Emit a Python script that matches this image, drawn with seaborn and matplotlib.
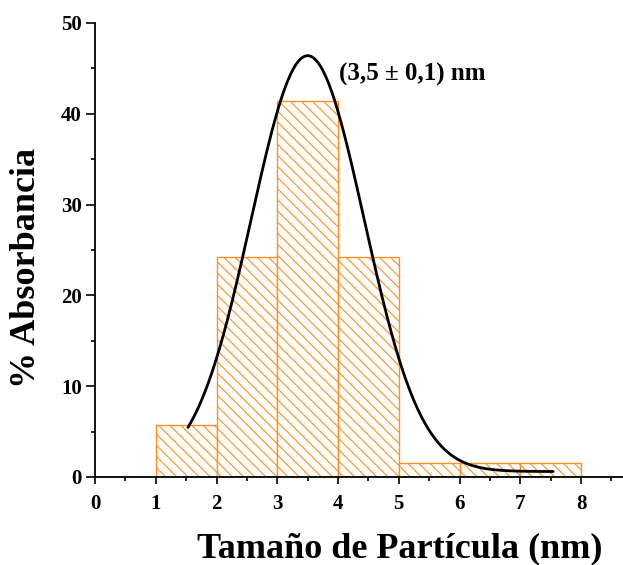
import numpy as np
import pandas as pd
import matplotlib
matplotlib.use("Agg")
import matplotlib.pyplot as plt
import seaborn as sns

# Histogram of particle sizes (bin edges in nm, percentage per bin)
bin_edges = [1, 2, 3, 4, 5, 6, 7, 8]
bin_percent = [5.7, 24.2, 41.4, 24.2, 1.5, 1.5, 1.5]

# Gaussian fit parameters: centre, width, amplitude, baseline
fit_center = 3.5
fit_sigma = 0.93
fit_amplitude = 45.8
fit_baseline = 0.6
fit_range = (1.53, 7.54)

x_ticks = [0, 1, 2, 3, 4, 5, 6, 7, 8]
y_ticks = [0, 10, 20, 30, 40, 50]
annotation = "(3,5 ± 0,1) nm"
x_label = "Tamaño de Partícula (nm)"
y_label = "% Absorbancia"

orange = "#FF8F1F"

sns.set_style("ticks")
plt.rcParams["font.family"] = ["Liberation Serif", "DejaVu Serif"]
plt.rcParams["font.weight"] = "bold"
plt.rcParams["text.color"] = "black"
plt.rcParams["xtick.color"] = "black"
plt.rcParams["ytick.color"] = "black"
plt.rcParams["axes.labelcolor"] = "black"
plt.rcParams["hatch.linewidth"] = 0.8
plt.rcParams["hatch.color"] = orange

fig = plt.figure(figsize=(6.23, 5.65), dpi=100)
ax = fig.add_axes([0.1525, 0.1558, 0.8475, 0.8035])

centers = [(a + b) / 2 for a, b in zip(bin_edges[:-1], bin_edges[1:])]
hist_df = pd.DataFrame({"size": centers, "pct": bin_percent})
sns.histplot(data=hist_df, x="size", weights="pct", bins=bin_edges,
             stat="count", fill=True, ax=ax, element="bars",
             facecolor="white", edgecolor=orange, linewidth=1.0, alpha=1)
for p in ax.patches:
    p.set_hatch("\\\\\\")
    p.set_edgecolor(orange)
    p.set_facecolor("white")

xs = np.linspace(fit_range[0], fit_range[1], 400)
ys = fit_baseline + fit_amplitude * np.exp(-(xs - fit_center) ** 2 / (2 * fit_sigma ** 2))
sns.lineplot(x=xs, y=ys, ax=ax, color="black", linewidth=2.0)

ax.text(4.02, 44.3, annotation, fontsize=18, fontweight="bold", va="center", ha="left",
        color="black")

ax.set_xlim(0, 8.69)
ax.set_ylim(0, 50)
ax.set_xticks(x_ticks)
ax.set_yticks(y_ticks)
ax.set_xticks(np.arange(0.5, 8.7, 1.0), minor=True)
ax.set_yticks(np.arange(5, 50, 10), minor=True)
ax.tick_params(axis="x", which="major", direction="out", length=5, width=1.2,
               labelsize=15, pad=7, colors="black")
ax.tick_params(axis="y", which="major", direction="out", length=6.5, width=1.2,
               labelsize=15, pad=3, colors="black")
ax.tick_params(axis="both", which="minor", direction="out", length=3.2, width=1.2,
               colors="black")
for lab in ax.get_xticklabels() + ax.get_yticklabels():
    lab.set_fontweight("bold")

ax.set_xlabel("")
ax.set_ylabel("")
fig.text(400 / 623, 1 - 549 / 565, x_label, fontsize=26, fontweight="bold",
         ha="center", va="center", color="black")
fig.text(27 / 623, 1 - 268 / 565, y_label, fontsize=26, fontweight="bold",
         ha="center", va="center", rotation=90, color="black")

for side in ["top", "right"]:
    ax.spines[side].set_visible(False)
for side in ["left", "bottom"]:
    ax.spines[side].set_linewidth(1.3)
    ax.spines[side].set_color("black")
ax.grid(False)

fig.savefig("out.png", dpi=100)
